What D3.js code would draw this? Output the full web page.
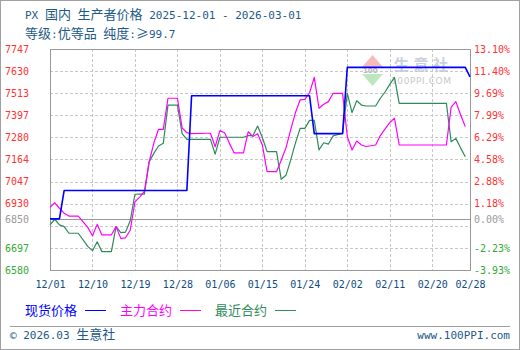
<!DOCTYPE html>
<html>
<head>
<meta charset="utf-8">
<script src="https://cdn.jsdelivr.net/npm/d3@7"></script>
<style>
  body { margin: 0; background: #fff; }
</style>
</head>
<body>
<script>
// data
const futuresDates = [
  '2025-12-01','2025-12-02','2025-12-03','2025-12-04','2025-12-05','2025-12-07','2025-12-09','2025-12-10','2025-12-11','2025-12-12',
  '2025-12-14','2025-12-15','2025-12-16','2025-12-17','2025-12-18','2025-12-19','2025-12-20','2025-12-21','2025-12-22','2025-12-23',
  '2025-12-24','2025-12-25','2025-12-26','2025-12-27','2025-12-28','2025-12-29','2025-12-30','2025-12-31','2026-01-03','2026-01-04',
  '2026-01-05','2026-01-06','2026-01-07','2026-01-08','2026-01-09','2026-01-11','2026-01-12','2026-01-13','2026-01-14','2026-01-15',
  '2026-01-16','2026-01-18','2026-01-19','2026-01-20','2026-01-21','2026-01-22','2026-01-23','2026-01-24','2026-01-25','2026-01-26',
  '2026-01-27','2026-01-28','2026-01-29','2026-01-30','2026-02-01','2026-02-02','2026-02-03','2026-02-04','2026-02-05','2026-02-06',
  '2026-02-08','2026-02-09','2026-02-10','2026-02-11','2026-02-12','2026-02-13','2026-02-23','2026-02-24','2026-02-25','2026-02-26',
  '2026-02-27'
];
const mainValues = [
  6911, 6935, 6906, 6880, 6865, 6865, 6805, 6761, 6821, 6765,
  6765, 6809, 6747, 6750, 6790, 6940, 6965, 6995, 7150, 7250,
  7323, 7323, 7487, 7487, 7487, 7330, 7305, 7300, 7302, 7302,
  7231, 7316, 7305, 7250, 7199, 7199, 7310, 7285, 7300, 7240,
  7099, 7099, 7160, 7225, 7320, 7410, 7478, 7481, 7516, 7597,
  7434, 7455, 7469, 7513, 7513, 7285, 7214, 7261, 7240, 7232,
  7240, 7290, 7325, 7358, 7381, 7240, 7240, 7440, 7469, 7400,
  7337
];
const nearValues = [
  6818, 6848, 6818, 6809, 6774, 6774, 6705, 6682, 6729, 6677,
  6677, 6809, 6777, 6780, 6840, 6980, 6981, 6981, 7150, 7196,
  7235, 7249, 7451, 7451, 7451, 7300, 7270, 7270, 7270, 7270,
  7192, 7281, 7281, 7281, 7281, 7281, 7290, 7290, 7340, 7280,
  7205, 7205, 7059, 7080, 7160, 7250, 7328, 7328, 7370, 7370,
  7214, 7252, 7245, 7288, 7302, 7513, 7411, 7474, 7451, 7446,
  7446, 7487, 7520, 7560, 7597, 7460, 7460, 7257, 7275, 7225,
  7178
];
const spotDates = ['2025-12-01','2025-12-03','2025-12-04','2025-12-30','2025-12-31','2026-01-25','2026-01-26','2026-02-01','2026-02-02','2026-02-27','2026-02-28'];
const spotValues = [6850, 6850, 7000, 7000, 7500, 7500, 7300, 7300, 7650, 7650, 7600];

const baseValue = 6850;
const yTicks = [6580, 6697, 6813, 6930, 7047, 7164, 7280, 7397, 7513, 7630, 7747];
const yLabels = ['6580', '6697', '', '6930', '7047', '7164', '7280', '7397', '7513', '7630', '7747'];
const pctLabels = ['-3.93%', '-2.23%', '', '1.18%', '2.88%', '4.58%', '6.29%', '7.99%', '9.69%', '11.40%', '13.10%'];
const xTickDates = ['2025-12-01','2025-12-10','2025-12-19','2025-12-28','2026-01-06','2026-01-15','2026-01-24','2026-02-02','2026-02-11','2026-02-20','2026-02-28'];
const xTickLabels = ['12/01','12/10','12/19','12/28','01/06','01/15','01/24','02/02','02/11','02/20','02/28'];
const legendNames = ['现货价格', '主力合约', '最近合约'];

const titleText = 'PX 国内 生产者价格 2025-12-01 - 2026-03-01';
const subtitleText = '等级:优等品 纯度:≥99.7';

// layout
const width = 520;
const height = 350;
const plotLeft = 50, plotRight = 470, plotTop = 49, plotBottom = 270;
const colors = ['#0000ff', '#ff00ff', '#2e8b57'];
const upColor = '#ff3333', downColor = '#33aa33', baseColor = '#999999';
const textBlue = '#1d5a87';
const mono = 'DejaVu Sans Mono, monospace';
const cjk = 'Noto Sans CJK SC, sans-serif';

const parse = d3.timeParse('%Y-%m-%d');

const svg = d3.select('body')
  .append('svg')
  .attr('width', width)
  .attr('height', height);

svg.append('rect')
  .attr('x', 0.5).attr('y', 0.5)
  .attr('width', width - 1).attr('height', height - 1)
  .attr('fill', '#fff')
  .attr('stroke', '#a0a0a0');

// latin runs in a mono font, CJK runs a bit larger
function addMixed(text, str, latinSize, cjkSize) {
  str.match(/[\x00-\x7f©]+|[^\x00-\x7f©]+/g).forEach(part => {
    const latin = /^[\x00-\x7f©]/.test(part);
    text.append('tspan')
      .attr('font-family', latin ? mono : cjk)
      .attr('font-size', latin ? latinSize : cjkSize)
      .text(part);
  });
}

// titles
const title = svg.append('text').attr('x', 25).attr('y', 19)
  .attr('fill', textBlue).style('white-space', 'pre');
addMixed(title, titleText, 11, 13);
const subtitle = svg.append('text').attr('x', 25).attr('y', 38)
  .attr('fill', textBlue).style('white-space', 'pre');
addMixed(subtitle, subtitleText, 11, 13);

// scales
const xScale = d3.scaleTime()
  .domain([parse('2025-12-01'), parse('2026-02-28')])
  .range([plotLeft, plotRight]);

const yScale = d3.scaleLinear()
  .domain([yTicks[0], yTicks[yTicks.length - 1]])
  .range([plotBottom, plotTop]);

// watermark
const wm = svg.append('g');
wm.append('path').attr('d', 'M362,67 L372.5,55 L383,67 Z').attr('fill', '#f6bcbc');
wm.append('path').attr('d', 'M362,74 L383,74 L372.5,86 Z').attr('fill', '#bde8bd');
wm.append('text').attr('x', 363).attr('y', 73).attr('font-family', 'DejaVu Sans, sans-serif')
  .attr('font-size', 7).attr('font-weight', 'bold').attr('fill', '#b8b8b8').text('100');
wm.append('text').attr('x', 394).attr('y', 70).attr('font-family', cjk)
  .attr('font-size', 15).attr('font-weight', 'bold').attr('fill', '#c9d0de')
  .attr('textLength', 54).text('生意社');
wm.append('text').attr('x', 391).attr('y', 84).attr('font-family', 'DejaVu Sans, sans-serif')
  .attr('font-size', 9).attr('fill', '#c8c8c8').attr('textLength', 60).text('100PPI.COM');

// grid
svg.append('g')
  .selectAll('line')
  .data(yTicks.slice(1, -1))
  .enter()
  .append('line')
  .attr('x1', plotLeft).attr('x2', plotRight)
  .attr('y1', d => Math.round(yScale(d)) + 0.5)
  .attr('y2', d => Math.round(yScale(d)) + 0.5)
  .attr('stroke', '#c8c8c8')
  .attr('stroke-dasharray', '3,2');

svg.append('g')
  .selectAll('line')
  .data(xTickDates.slice(1, -1))
  .enter()
  .append('line')
  .attr('x1', d => Math.round(xScale(parse(d))) + 0.5)
  .attr('x2', d => Math.round(xScale(parse(d))) + 0.5)
  .attr('y1', plotTop).attr('y2', plotBottom)
  .attr('stroke', '#c8c8c8')
  .attr('stroke-dasharray', '3,2');

// base line
svg.append('line')
  .attr('x1', plotLeft).attr('x2', plotRight)
  .attr('y1', Math.round(yScale(baseValue)) + 0.5)
  .attr('y2', Math.round(yScale(baseValue)) + 0.5)
  .attr('stroke', baseColor);

// frame
svg.append('rect')
  .attr('x', plotLeft + 0.5).attr('y', plotTop + 0.5)
  .attr('width', plotRight - plotLeft).attr('height', plotBottom - plotTop)
  .attr('fill', 'none')
  .attr('stroke', '#999');

// axes
const labelColor = v => v > baseValue ? upColor : (v < baseValue ? downColor : baseColor);

const yLeft = svg.append('g')
  .attr('transform', `translate(${plotLeft},0)`)
  .call(d3.axisLeft(yScale).tickValues(yTicks.concat([baseValue]))
    .tickFormat((d, i) => i < yLabels.length ? yLabels[i] : String(baseValue))
    .tickSize(0).tickPadding(21));
yLeft.select('.domain').remove();
yLeft.selectAll('text')
  .attr('font-family', mono).attr('font-size', 10)
  .attr('fill', d => labelColor(d));

const yRight = svg.append('g')
  .attr('transform', `translate(${plotRight},0)`)
  .call(d3.axisRight(yScale).tickValues(yTicks.concat([baseValue]))
    .tickFormat((d, i) => i < pctLabels.length ? pctLabels[i] : '0.00%')
    .tickSize(0).tickPadding(4));
yRight.select('.domain').remove();
yRight.selectAll('text')
  .attr('font-family', mono).attr('font-size', 10)
  .attr('fill', d => labelColor(d));

const xAxis = svg.append('g')
  .attr('transform', `translate(0,${plotBottom})`)
  .call(d3.axisBottom(xScale).tickValues(xTickDates.map(parse))
    .tickFormat((d, i) => xTickLabels[i])
    .tickSize(0).tickPadding(11));
xAxis.select('.domain').remove();
xAxis.selectAll('text')
  .attr('font-family', mono).attr('font-size', 10)
  .attr('fill', '#0f4c81');

// lines
const line = d3.line()
  .x(d => xScale(d.date))
  .y(d => yScale(d.value));

const toPoints = (dates, values) => dates.map((d, i) => ({ date: parse(d), value: values[i] }));

const series = [
  { points: toPoints(futuresDates, nearValues), color: colors[2], width: 1.2 },
  { points: toPoints(futuresDates, mainValues), color: colors[1], width: 1.2 },
  { points: toPoints(spotDates, spotValues), color: colors[0], width: 1.6 }
];

svg.append('g')
  .selectAll('path')
  .data(series)
  .enter()
  .append('path')
  .attr('d', s => line(s.points))
  .attr('fill', 'none')
  .attr('stroke', s => s.color)
  .attr('stroke-width', s => s.width)
  .attr('stroke-linejoin', 'round');

// legend
const legend = svg.append('g')
  .selectAll('g')
  .data(legendNames)
  .enter()
  .append('g')
  .attr('transform', (d, i) => `translate(${25 + i * 95},310)`);

legend.append('text')
  .attr('y', 4.5)
  .attr('font-family', cjk).attr('font-size', 13)
  .attr('fill', (d, i) => colors[i])
  .text(d => d);

legend.append('line')
  .attr('x1', 60).attr('x2', 81)
  .attr('y1', 0.5).attr('y2', 0.5)
  .attr('stroke', (d, i) => colors[i])
  .attr('stroke-width', 1);

// footer
svg.append('line')
  .attr('x1', 10).attr('x2', 510)
  .attr('y1', 326.5).attr('y2', 326.5)
  .attr('stroke', '#a0a0a0');

const footLeft = svg.append('text').attr('x', 10).attr('y', 339)
  .attr('fill', textBlue).style('white-space', 'pre');
addMixed(footLeft, '© 2026.03 生意社', 11, 13);

svg.append('text')
  .attr('x', 510).attr('y', 339)
  .attr('text-anchor', 'end')
  .attr('font-family', mono).attr('font-size', 11)
  .attr('fill', textBlue)
  .text('www.100PPI.com');
</script>
</body>
</html>
